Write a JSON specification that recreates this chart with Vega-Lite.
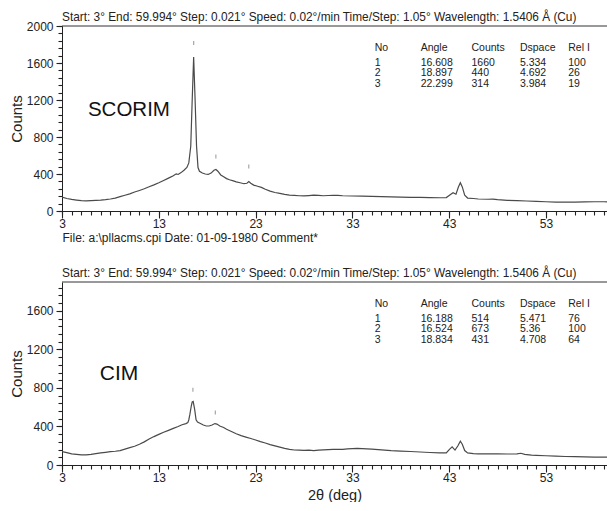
{
"$schema": "https://vega.github.io/schema/vega-lite/v6.json",
"background": "white",
"padding": {"left": 9, "top": 12, "right": 0, "bottom": 0},
"spacing": 25,
"config": {
  "view": {"stroke": null},
  "font": "Liberation Sans",
  "axis": {"grid": false, "domainColor": "#222", "tickColor": "#222", "labelColor": "#222", "titleColor": "#222", "labelFont": "Liberation Sans", "titleFont": "Liberation Sans", "titleFontWeight": "normal", "labelFontSize": 12}
},
"datasets": {
  "scorim": [
    {"angle": 3.0, "counts": 150}, {"angle": 3.5, "counts": 135}, {"angle": 4.0, "counts": 125}, {"angle": 4.5, "counts": 118},
    {"angle": 5.0, "counts": 112}, {"angle": 5.5, "counts": 110}, {"angle": 6.0, "counts": 112}, {"angle": 6.5, "counts": 114},
    {"angle": 7.0, "counts": 117}, {"angle": 7.5, "counts": 122}, {"angle": 8.0, "counts": 130}, {"angle": 8.5, "counts": 140},
    {"angle": 9.0, "counts": 155}, {"angle": 9.5, "counts": 170}, {"angle": 10.0, "counts": 185}, {"angle": 10.5, "counts": 205},
    {"angle": 11.0, "counts": 222}, {"angle": 11.5, "counts": 240}, {"angle": 12.0, "counts": 262}, {"angle": 12.5, "counts": 282},
    {"angle": 13.0, "counts": 305}, {"angle": 13.5, "counts": 330}, {"angle": 14.0, "counts": 355}, {"angle": 14.5, "counts": 380},
    {"angle": 14.8, "counts": 402}, {"angle": 15.0, "counts": 395}, {"angle": 15.3, "counts": 415}, {"angle": 15.6, "counts": 440},
    {"angle": 15.9, "counts": 470}, {"angle": 16.1, "counts": 520}, {"angle": 16.3, "counts": 700}, {"angle": 16.45, "counts": 1200},
    {"angle": 16.6, "counts": 1665}, {"angle": 16.75, "counts": 1200}, {"angle": 16.9, "counts": 700}, {"angle": 17.05, "counts": 470},
    {"angle": 17.2, "counts": 430}, {"angle": 17.5, "counts": 410}, {"angle": 17.8, "counts": 400}, {"angle": 18.1, "counts": 395},
    {"angle": 18.4, "counts": 410}, {"angle": 18.7, "counts": 440}, {"angle": 18.9, "counts": 448}, {"angle": 19.1, "counts": 430},
    {"angle": 19.4, "counts": 390}, {"angle": 19.7, "counts": 370}, {"angle": 20.0, "counts": 350}, {"angle": 20.3, "counts": 338},
    {"angle": 20.7, "counts": 325}, {"angle": 21.0, "counts": 315}, {"angle": 21.4, "counts": 305}, {"angle": 21.8, "counts": 295},
    {"angle": 22.1, "counts": 300}, {"angle": 22.3, "counts": 318}, {"angle": 22.5, "counts": 300}, {"angle": 22.8, "counts": 280},
    {"angle": 23.2, "counts": 268}, {"angle": 23.6, "counts": 255}, {"angle": 24.0, "counts": 235}, {"angle": 24.5, "counts": 215},
    {"angle": 25.0, "counts": 200}, {"angle": 25.5, "counts": 190}, {"angle": 26.0, "counts": 180}, {"angle": 26.5, "counts": 172},
    {"angle": 27.0, "counts": 168}, {"angle": 27.5, "counts": 165}, {"angle": 28.0, "counts": 163}, {"angle": 28.5, "counts": 167},
    {"angle": 29.0, "counts": 172}, {"angle": 29.5, "counts": 168}, {"angle": 30.0, "counts": 165}, {"angle": 31.0, "counts": 170},
    {"angle": 31.5, "counts": 168}, {"angle": 32.0, "counts": 165}, {"angle": 33.0, "counts": 162}, {"angle": 34.0, "counts": 160},
    {"angle": 35.0, "counts": 158}, {"angle": 36.0, "counts": 155}, {"angle": 37.0, "counts": 152}, {"angle": 38.0, "counts": 150},
    {"angle": 39.0, "counts": 148}, {"angle": 40.0, "counts": 147}, {"angle": 41.0, "counts": 145}, {"angle": 42.0, "counts": 143},
    {"angle": 42.7, "counts": 145}, {"angle": 43.1, "counts": 175}, {"angle": 43.4, "counts": 198}, {"angle": 43.7, "counts": 182},
    {"angle": 43.95, "counts": 260}, {"angle": 44.15, "counts": 305}, {"angle": 44.35, "counts": 260}, {"angle": 44.6, "counts": 170},
    {"angle": 44.9, "counts": 140}, {"angle": 45.5, "counts": 135}, {"angle": 46.0, "counts": 130}, {"angle": 47.0, "counts": 127},
    {"angle": 47.5, "counts": 128}, {"angle": 48.0, "counts": 122}, {"angle": 49.0, "counts": 115}, {"angle": 50.0, "counts": 112},
    {"angle": 51.0, "counts": 108}, {"angle": 52.0, "counts": 104}, {"angle": 53.0, "counts": 100}, {"angle": 54.0, "counts": 96},
    {"angle": 55.0, "counts": 95}, {"angle": 56.0, "counts": 97}, {"angle": 57.0, "counts": 98}, {"angle": 58.0, "counts": 100},
    {"angle": 59.0, "counts": 100}, {"angle": 59.994, "counts": 98}
  ],
  "cim": [
    {"angle": 3.0, "counts": 140}, {"angle": 3.5, "counts": 128}, {"angle": 4.0, "counts": 115}, {"angle": 4.5, "counts": 110},
    {"angle": 5.0, "counts": 106}, {"angle": 5.5, "counts": 106}, {"angle": 6.0, "counts": 110}, {"angle": 6.5, "counts": 118},
    {"angle": 7.0, "counts": 125}, {"angle": 7.5, "counts": 132}, {"angle": 8.0, "counts": 138}, {"angle": 8.5, "counts": 143},
    {"angle": 9.0, "counts": 150}, {"angle": 9.5, "counts": 165}, {"angle": 10.0, "counts": 180}, {"angle": 10.5, "counts": 195},
    {"angle": 11.0, "counts": 215}, {"angle": 11.5, "counts": 240}, {"angle": 12.0, "counts": 270}, {"angle": 12.5, "counts": 295},
    {"angle": 13.0, "counts": 318}, {"angle": 13.5, "counts": 340}, {"angle": 14.0, "counts": 360}, {"angle": 14.5, "counts": 380},
    {"angle": 15.0, "counts": 400}, {"angle": 15.4, "counts": 418}, {"angle": 15.8, "counts": 430}, {"angle": 16.0, "counts": 440},
    {"angle": 16.1, "counts": 470}, {"angle": 16.2, "counts": 520}, {"angle": 16.35, "counts": 610}, {"angle": 16.45, "counts": 655},
    {"angle": 16.55, "counts": 660}, {"angle": 16.7, "counts": 580}, {"angle": 16.85, "counts": 470}, {"angle": 17.0, "counts": 445},
    {"angle": 17.3, "counts": 430}, {"angle": 17.6, "counts": 415}, {"angle": 17.9, "counts": 405}, {"angle": 18.2, "counts": 405},
    {"angle": 18.5, "counts": 415}, {"angle": 18.8, "counts": 430}, {"angle": 19.0, "counts": 425}, {"angle": 19.3, "counts": 405},
    {"angle": 19.7, "counts": 390}, {"angle": 20.0, "counts": 372}, {"angle": 20.5, "counts": 348}, {"angle": 21.0, "counts": 325},
    {"angle": 21.5, "counts": 305}, {"angle": 22.0, "counts": 290}, {"angle": 22.5, "counts": 275}, {"angle": 23.0, "counts": 260},
    {"angle": 23.5, "counts": 243}, {"angle": 24.0, "counts": 228}, {"angle": 24.5, "counts": 212}, {"angle": 25.0, "counts": 198},
    {"angle": 25.5, "counts": 185}, {"angle": 26.0, "counts": 172}, {"angle": 26.5, "counts": 162}, {"angle": 27.0, "counts": 156},
    {"angle": 27.5, "counts": 154}, {"angle": 28.0, "counts": 152}, {"angle": 28.5, "counts": 154}, {"angle": 29.0, "counts": 150},
    {"angle": 29.5, "counts": 155}, {"angle": 30.0, "counts": 158}, {"angle": 31.0, "counts": 162}, {"angle": 32.0, "counts": 163},
    {"angle": 32.5, "counts": 168}, {"angle": 33.0, "counts": 170}, {"angle": 33.5, "counts": 172}, {"angle": 34.0, "counts": 170},
    {"angle": 35.0, "counts": 165}, {"angle": 36.0, "counts": 158}, {"angle": 37.0, "counts": 150}, {"angle": 38.0, "counts": 145},
    {"angle": 39.0, "counts": 140}, {"angle": 40.0, "counts": 135}, {"angle": 41.0, "counts": 130}, {"angle": 42.0, "counts": 126},
    {"angle": 42.7, "counts": 125}, {"angle": 43.0, "counts": 160}, {"angle": 43.3, "counts": 188}, {"angle": 43.6, "counts": 155},
    {"angle": 43.9, "counts": 200}, {"angle": 44.15, "counts": 248}, {"angle": 44.35, "counts": 215}, {"angle": 44.6, "counts": 150},
    {"angle": 44.9, "counts": 125}, {"angle": 45.5, "counts": 118}, {"angle": 46.0, "counts": 116}, {"angle": 47.0, "counts": 115},
    {"angle": 48.0, "counts": 116}, {"angle": 49.0, "counts": 114}, {"angle": 50.0, "counts": 115}, {"angle": 50.4, "counts": 122},
    {"angle": 50.8, "counts": 110}, {"angle": 51.5, "counts": 103}, {"angle": 52.0, "counts": 100}, {"angle": 53.0, "counts": 96},
    {"angle": 54.0, "counts": 92}, {"angle": 55.0, "counts": 88}, {"angle": 56.0, "counts": 86}, {"angle": 57.0, "counts": 84},
    {"angle": 58.0, "counts": 82}, {"angle": 59.0, "counts": 82}, {"angle": 59.994, "counts": 80}
  ],
  "marks1": [{"angle": 16.608, "counts": 1815}, {"angle": 18.897, "counts": 590}, {"angle": 22.299, "counts": 480}],
  "marks2": [{"angle": 16.524, "counts": 780}, {"angle": 18.834, "counts": 545}],
  "t1": [
    {"No": 1, "Angle": "16.608", "Counts": "1660", "Dspace": "5.334", "RelI": "100"},
    {"No": 2, "Angle": "18.897", "Counts": "440", "Dspace": "4.692", "RelI": "26"},
    {"No": 3, "Angle": "22.299", "Counts": "314", "Dspace": "3.984", "RelI": "19"}
  ],
  "t2": [
    {"No": 1, "Angle": "16.188", "Counts": "514", "Dspace": "5.471", "RelI": "76"},
    {"No": 2, "Angle": "16.524", "Counts": "673", "Dspace": "5.36", "RelI": "100"},
    {"No": 3, "Angle": "18.834", "Counts": "431", "Dspace": "4.708", "RelI": "64"}
  ],
  "one": [{}]
},
"vconcat": [
  {
    "width": 545, "height": 185,
    "layer": [
      {
        "layer": [
          {"data": {"name": "scorim"}, "mark": {"type": "line", "color": "#4a4a4a", "strokeWidth": 1.2, "clip": true},
           "encoding": {
             "x": {"field": "angle", "type": "quantitative", "scale": {"domain": [3, 59.3], "nice": false, "zero": false},
                   "axis": {"orient": "bottom", "values": [3,4,5,6,7,8,9,10,11,12,13,14,15,16,17,18,19,20,21,22,23,24,25,26,27,28,29,30,31,32,33,34,35,36,37,38,39,40,41,42,43,44,45,46,47,48,49,50,51,52,53,54,55,56,57,58,59],
                            "labelExpr": "(datum.value - 3) % 10 === 0 ? datum.label : ''",
                            "tickCount": 200, "tickSize": 4, "tickWidth": 1.1, "labelOverlap": false, "labelFlush": false, "labelPadding": 3, "format": "d",
                            "title": "File: a:\\pllacms.cpi  Date: 01-09-1980  Comment*", "titleAnchor": "start", "titleAlign": "left", "titleFontSize": 12, "titlePadding": 3}},
             "y": {"field": "counts", "type": "quantitative", "scale": {"domain": [0, 2000], "nice": false},
                   "axis": {"orient": "left", "values": [0,80,160,240,320,400,480,560,640,720,800,880,960,1040,1120,1200,1280,1360,1440,1520,1600,1680,1760,1840,1920,2000],
                            "labelExpr": "datum.value % 400 === 0 ? datum.label : ''",
                            "tickCount": 200, "tickSize": 4, "tickWidth": 1.1, "labelOverlap": false, "labelFlush": false, "format": "d", "labelPadding": 5, "title": "Counts", "titleFontSize": 15, "titlePadding": 2}}
           }},
          {"data": {"name": "scorim"}, "mark": {"type": "line", "opacity": 0},
           "encoding": {
             "x": {"field": "angle", "type": "quantitative",
                   "axis": {"orient": "bottom", "values": [3, 13, 23, 33, 43, 53], "tickCount": 200, "tickSize": 7, "tickWidth": 1.1, "labels": false, "domain": false, "title": null}},
             "y": {"field": "counts", "type": "quantitative",
                   "axis": {"orient": "left", "values": [0, 400, 800, 1200, 1600, 2000], "tickCount": 200, "tickSize": 6, "tickWidth": 1.1, "labels": false, "domain": false, "title": null}}
           }},
          {"data": {"name": "one"}, "mark": {"type": "rule", "color": "#333", "strokeWidth": 1}, "encoding": {"y": {"datum": 2000, "axis": null}}},
          {"data": {"name": "one"}, "mark": {"type": "text", "align": "left", "baseline": "alphabetic", "dy": -5, "fontSize": 11.85, "color": "#222",
             "text": "Start: 3° End: 59.994° Step: 0.021° Speed: 0.02°/min Time/Step: 1.05° Wavelength: 1.5406 Å (Cu)"},
           "encoding": {"x": {"datum": 3, "axis": null}, "y": {"datum": 2000, "axis": null}}},
          {"data": {"name": "one"}, "mark": {"type": "text", "align": "left", "baseline": "middle", "fontSize": 20.5, "color": "#111", "text": "SCORIM"},
           "encoding": {"x": {"datum": 5.68, "axis": null}, "y": {"datum": 1091, "axis": null}}},
          {"data": {"name": "marks1"}, "mark": {"type": "tick", "orient": "vertical", "size": 4, "thickness": 1, "color": "#666"},
           "encoding": {"x": {"field": "angle", "type": "quantitative", "axis": null}, "y": {"field": "counts", "type": "quantitative", "axis": null}}}
        ],
        "resolve": {"axis": {"x": "independent", "y": "independent"}}
      },
      {
        "data": {"name": "t1"},
        "layer": [
          {"mark": {"type": "text", "align": "left", "baseline": "middle", "fontSize": 10.5, "color": "#222"},
           "encoding": {"x": {"datum": 35.3, "axis": null}, "y": {"field": "No", "type": "quantitative", "scale": {"domain": [-2.52, 15.1], "reverse": true, "nice": false, "zero": false}, "axis": null}, "text": {"field": "No"}}},
          {"mark": {"type": "text", "align": "left", "baseline": "middle", "fontSize": 10.5, "color": "#222"},
           "encoding": {"x": {"datum": 40.05, "axis": null}, "y": {"field": "No", "type": "quantitative", "axis": null}, "text": {"field": "Angle"}}},
          {"mark": {"type": "text", "align": "left", "baseline": "middle", "fontSize": 10.5, "color": "#222"},
           "encoding": {"x": {"datum": 45.3, "axis": null}, "y": {"field": "No", "type": "quantitative", "axis": null}, "text": {"field": "Counts"}}},
          {"mark": {"type": "text", "align": "left", "baseline": "middle", "fontSize": 10.5, "color": "#222"},
           "encoding": {"x": {"datum": 50.3, "axis": null}, "y": {"field": "No", "type": "quantitative", "axis": null}, "text": {"field": "Dspace"}}},
          {"mark": {"type": "text", "align": "left", "baseline": "middle", "fontSize": 10.5, "color": "#222"},
           "encoding": {"x": {"datum": 55.3, "axis": null}, "y": {"field": "No", "type": "quantitative", "axis": null}, "text": {"field": "RelI"}}},
          {"data": {"name": "one"}, "mark": {"type": "text", "align": "left", "baseline": "middle", "fontSize": 10.5, "color": "#222", "text": "No"},
           "encoding": {"x": {"datum": 35.3, "axis": null}, "y": {"datum": -0.43, "axis": null}}},
          {"data": {"name": "one"}, "mark": {"type": "text", "align": "left", "baseline": "middle", "fontSize": 10.5, "color": "#222", "text": "Angle"},
           "encoding": {"x": {"datum": 40.05, "axis": null}, "y": {"datum": -0.43, "axis": null}}},
          {"data": {"name": "one"}, "mark": {"type": "text", "align": "left", "baseline": "middle", "fontSize": 10.5, "color": "#222", "text": "Counts"},
           "encoding": {"x": {"datum": 45.3, "axis": null}, "y": {"datum": -0.43, "axis": null}}},
          {"data": {"name": "one"}, "mark": {"type": "text", "align": "left", "baseline": "middle", "fontSize": 10.5, "color": "#222", "text": "Dspace"},
           "encoding": {"x": {"datum": 50.3, "axis": null}, "y": {"datum": -0.43, "axis": null}}},
          {"data": {"name": "one"}, "mark": {"type": "text", "align": "left", "baseline": "middle", "fontSize": 10.5, "color": "#222", "text": "Rel I"},
           "encoding": {"x": {"datum": 55.3, "axis": null}, "y": {"datum": -0.43, "axis": null}}}
        ]
      }
    ],
    "resolve": {"scale": {"y": "independent"}, "axis": {"x": "independent", "y": "independent"}}
  },
  {
    "width": 545, "height": 183,
    "layer": [
      {
        "layer": [
          {"data": {"name": "cim"}, "mark": {"type": "line", "color": "#4a4a4a", "strokeWidth": 1.2, "clip": true},
           "encoding": {
             "x": {"field": "angle", "type": "quantitative", "scale": {"domain": [3, 59.3], "nice": false, "zero": false},
                   "axis": {"orient": "bottom", "values": [3,4,5,6,7,8,9,10,11,12,13,14,15,16,17,18,19,20,21,22,23,24,25,26,27,28,29,30,31,32,33,34,35,36,37,38,39,40,41,42,43,44,45,46,47,48,49,50,51,52,53,54,55,56,57,58,59],
                            "labelExpr": "(datum.value - 3) % 10 === 0 ? datum.label : ''",
                            "tickCount": 200, "tickSize": 4, "tickWidth": 1.1, "labelOverlap": false, "labelFlush": false, "labelPadding": 3, "format": "d",
                            "title": "2θ (deg)", "titleFontSize": 14.5, "titlePadding": 5}},
             "y": {"field": "counts", "type": "quantitative", "scale": {"domain": [0, 1900], "nice": false},
                   "axis": {"orient": "left", "values": [0,80,160,240,320,400,480,560,640,720,800,880,960,1040,1120,1200,1280,1360,1440,1520,1600,1680,1760,1840],
                            "labelExpr": "datum.value % 400 === 0 ? datum.label : ''",
                            "tickCount": 200, "tickSize": 4, "tickWidth": 1.1, "labelOverlap": false, "labelFlush": false, "format": "d", "labelPadding": 5, "title": "Counts", "titleFontSize": 15, "titlePadding": 2}}
           }},
          {"data": {"name": "cim"}, "mark": {"type": "line", "opacity": 0},
           "encoding": {
             "x": {"field": "angle", "type": "quantitative",
                   "axis": {"orient": "bottom", "values": [3, 13, 23, 33, 43, 53], "tickCount": 200, "tickSize": 7, "tickWidth": 1.1, "labels": false, "domain": false, "title": null}},
             "y": {"field": "counts", "type": "quantitative",
                   "axis": {"orient": "left", "values": [0, 400, 800, 1200, 1600], "tickCount": 200, "tickSize": 6, "tickWidth": 1.1, "labels": false, "domain": false, "title": null}}
           }},
          {"data": {"name": "one"}, "mark": {"type": "rule", "color": "#333", "strokeWidth": 1}, "encoding": {"y": {"datum": 1900, "axis": null}}},
          {"data": {"name": "one"}, "mark": {"type": "text", "align": "left", "baseline": "alphabetic", "dy": -5, "fontSize": 11.85, "color": "#222",
             "text": "Start: 3° End: 59.994° Step: 0.021° Speed: 0.02°/min Time/Step: 1.05° Wavelength: 1.5406 Å (Cu)"},
           "encoding": {"x": {"datum": 3, "axis": null}, "y": {"datum": 1900, "axis": null}}},
          {"data": {"name": "one"}, "mark": {"type": "text", "align": "left", "baseline": "middle", "fontSize": 21, "color": "#111", "text": "CIM"},
           "encoding": {"x": {"datum": 6.9, "axis": null}, "y": {"datum": 944, "axis": null}}},
          {"data": {"name": "marks2"}, "mark": {"type": "tick", "orient": "vertical", "size": 4, "thickness": 1, "color": "#666"},
           "encoding": {"x": {"field": "angle", "type": "quantitative", "axis": null}, "y": {"field": "counts", "type": "quantitative", "axis": null}}}
        ],
        "resolve": {"axis": {"x": "independent", "y": "independent"}}
      },
      {
        "data": {"name": "t2"},
        "layer": [
          {"mark": {"type": "text", "align": "left", "baseline": "middle", "fontSize": 10.5, "color": "#222"},
           "encoding": {"x": {"datum": 35.3, "axis": null}, "y": {"field": "No", "type": "quantitative", "scale": {"domain": [-2.52, 14.91], "reverse": true, "nice": false, "zero": false}, "axis": null}, "text": {"field": "No"}}},
          {"mark": {"type": "text", "align": "left", "baseline": "middle", "fontSize": 10.5, "color": "#222"},
           "encoding": {"x": {"datum": 40.05, "axis": null}, "y": {"field": "No", "type": "quantitative", "axis": null}, "text": {"field": "Angle"}}},
          {"mark": {"type": "text", "align": "left", "baseline": "middle", "fontSize": 10.5, "color": "#222"},
           "encoding": {"x": {"datum": 45.3, "axis": null}, "y": {"field": "No", "type": "quantitative", "axis": null}, "text": {"field": "Counts"}}},
          {"mark": {"type": "text", "align": "left", "baseline": "middle", "fontSize": 10.5, "color": "#222"},
           "encoding": {"x": {"datum": 50.3, "axis": null}, "y": {"field": "No", "type": "quantitative", "axis": null}, "text": {"field": "Dspace"}}},
          {"mark": {"type": "text", "align": "left", "baseline": "middle", "fontSize": 10.5, "color": "#222"},
           "encoding": {"x": {"datum": 55.3, "axis": null}, "y": {"field": "No", "type": "quantitative", "axis": null}, "text": {"field": "RelI"}}},
          {"data": {"name": "one"}, "mark": {"type": "text", "align": "left", "baseline": "middle", "fontSize": 10.5, "color": "#222", "text": "No"},
           "encoding": {"x": {"datum": 35.3, "axis": null}, "y": {"datum": -0.43, "axis": null}}},
          {"data": {"name": "one"}, "mark": {"type": "text", "align": "left", "baseline": "middle", "fontSize": 10.5, "color": "#222", "text": "Angle"},
           "encoding": {"x": {"datum": 40.05, "axis": null}, "y": {"datum": -0.43, "axis": null}}},
          {"data": {"name": "one"}, "mark": {"type": "text", "align": "left", "baseline": "middle", "fontSize": 10.5, "color": "#222", "text": "Counts"},
           "encoding": {"x": {"datum": 45.3, "axis": null}, "y": {"datum": -0.43, "axis": null}}},
          {"data": {"name": "one"}, "mark": {"type": "text", "align": "left", "baseline": "middle", "fontSize": 10.5, "color": "#222", "text": "Dspace"},
           "encoding": {"x": {"datum": 50.3, "axis": null}, "y": {"datum": -0.43, "axis": null}}},
          {"data": {"name": "one"}, "mark": {"type": "text", "align": "left", "baseline": "middle", "fontSize": 10.5, "color": "#222", "text": "Rel I"},
           "encoding": {"x": {"datum": 55.3, "axis": null}, "y": {"datum": -0.43, "axis": null}}}
        ]
      }
    ],
    "resolve": {"scale": {"y": "independent"}, "axis": {"x": "independent", "y": "independent"}}
  }
]
}
